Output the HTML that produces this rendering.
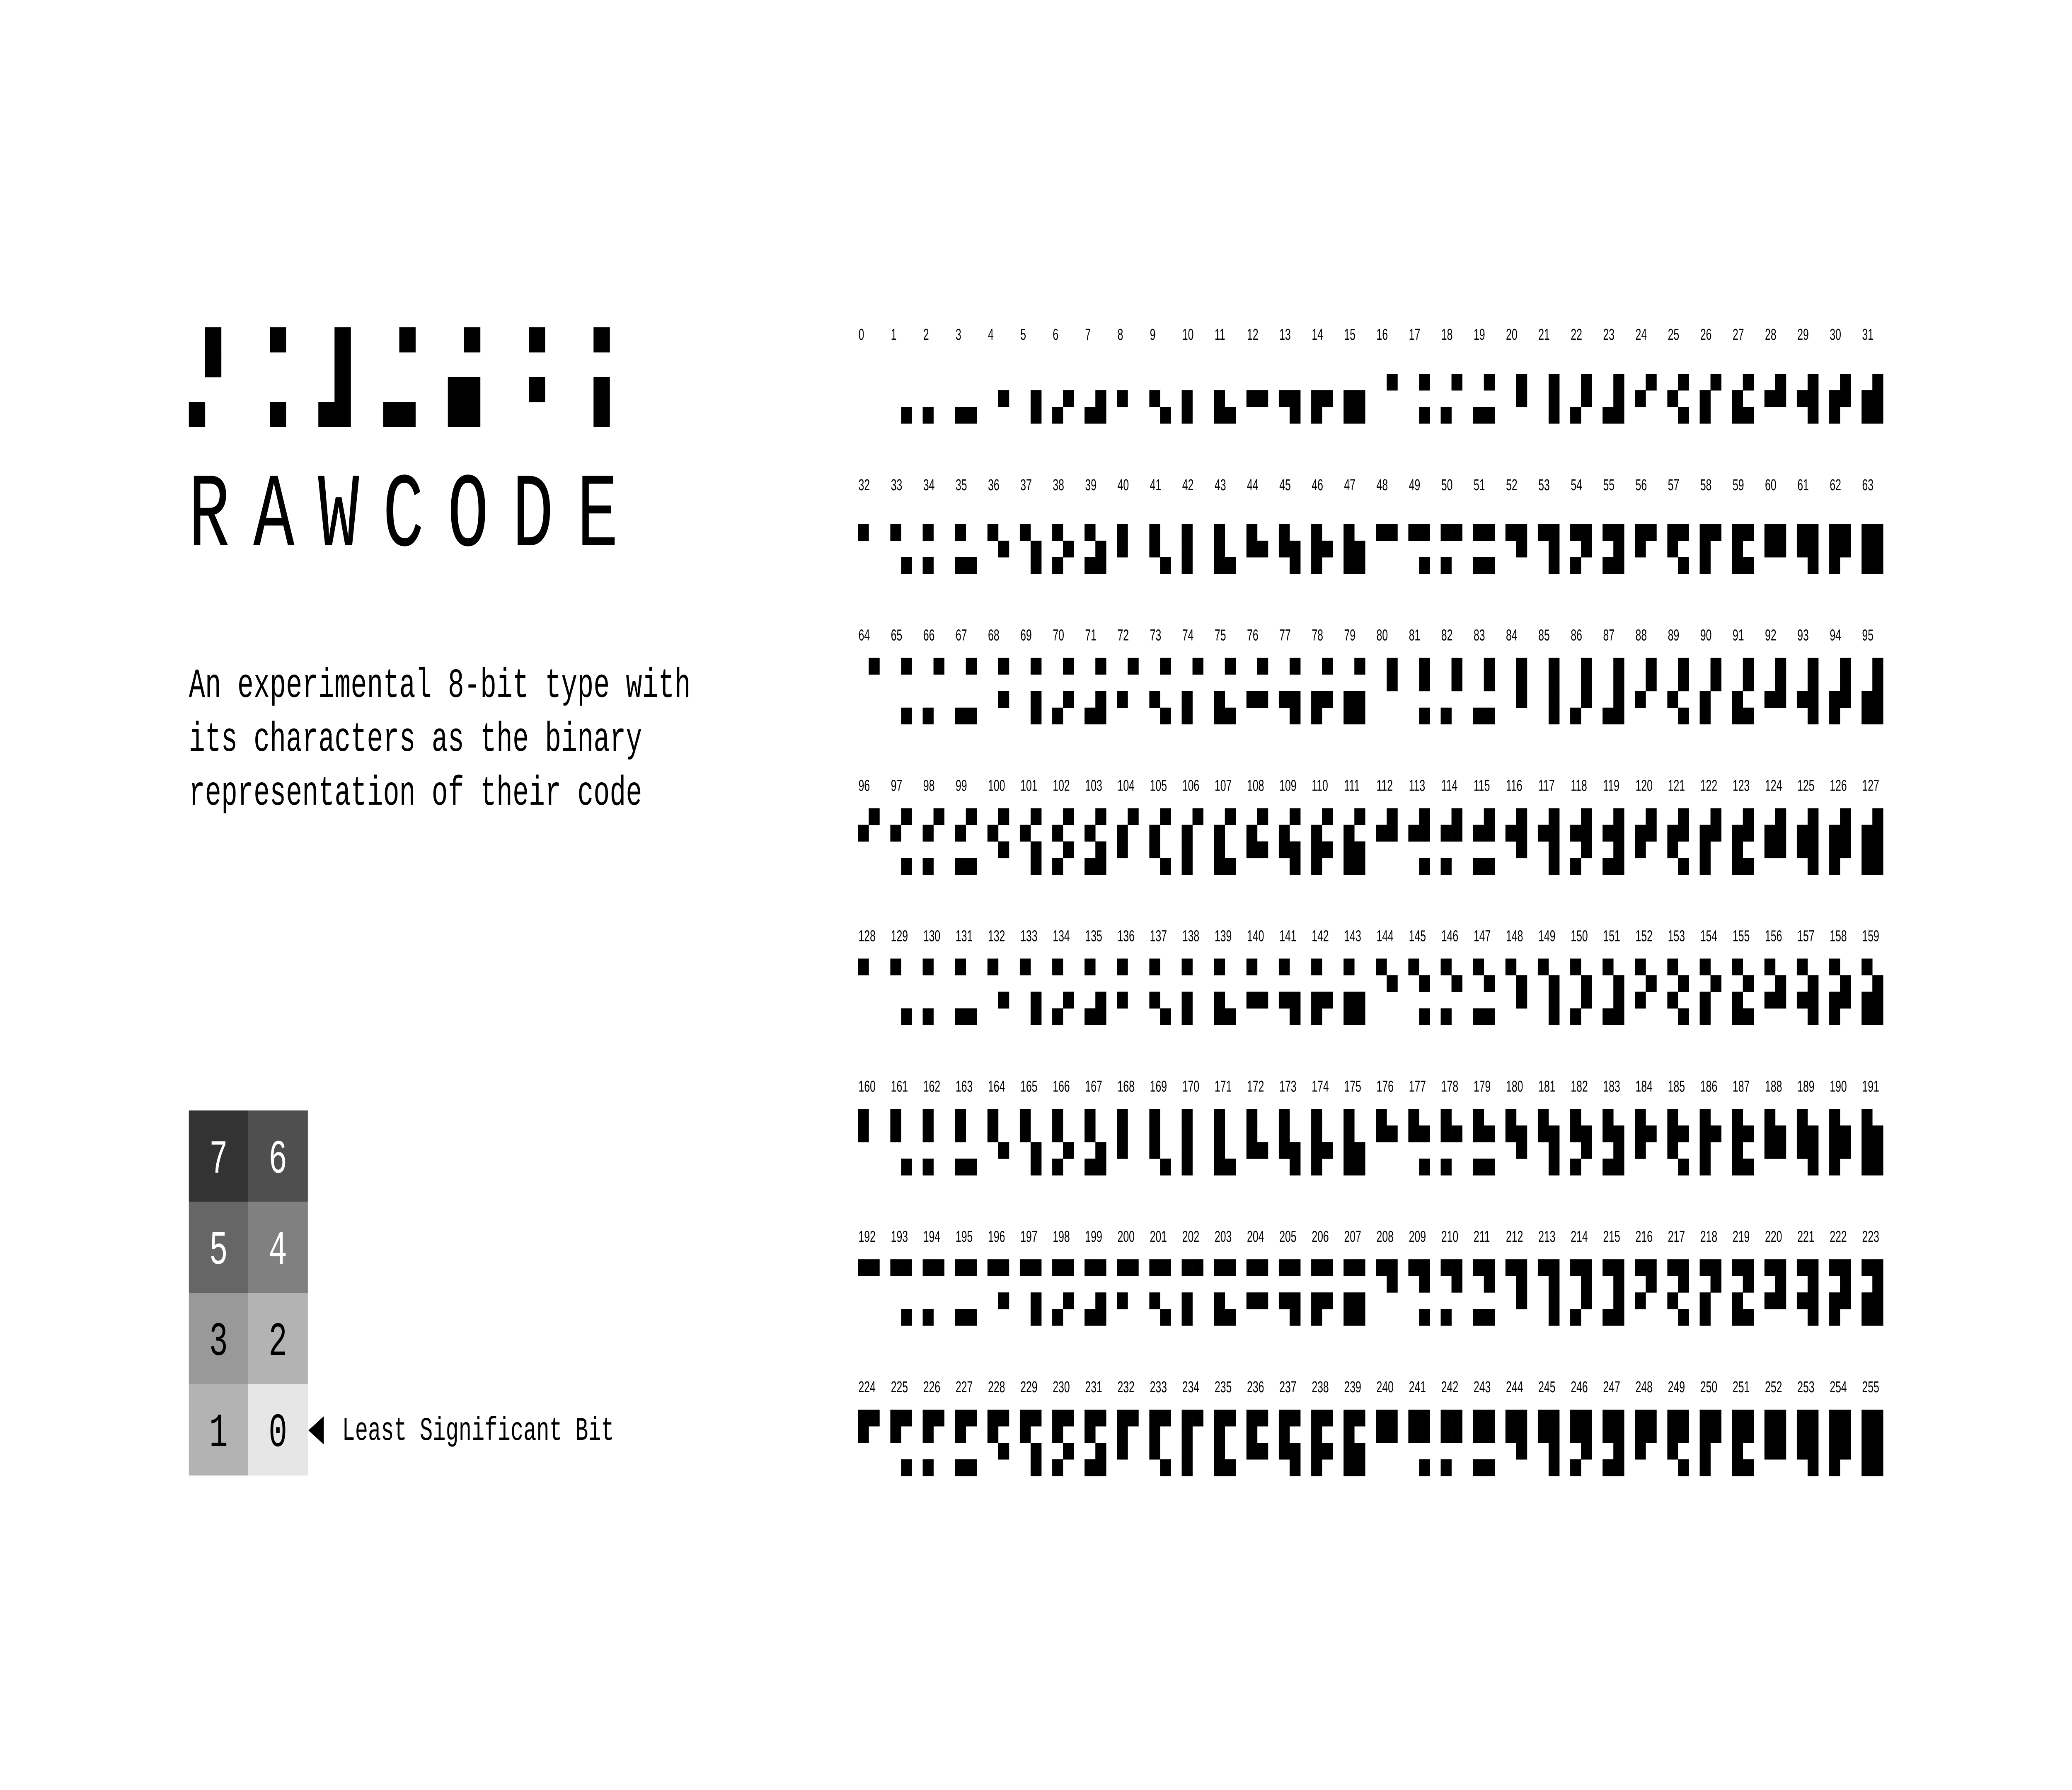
<!DOCTYPE html>
<html><head><meta charset="utf-8"><style>
html,body{margin:0;padding:0;background:#fff;width:100%;height:100%;overflow:hidden;}
svg{display:block;width:100vw;height:100vh;}
</style></head><body>
<svg id="root" xmlns="http://www.w3.org/2000/svg" viewBox="0 0 7680 4320" preserveAspectRatio="none">
<rect x="0" y="0" width="7680" height="4320" fill="#fff"/>
<g id="logo"></g>
<g id="logotext" font-family="Liberation Mono, monospace" font-size="255" fill="#000" text-anchor="middle"></g>
<g font-family="Liberation Mono, monospace" font-size="100" fill="#000">
<text x="700" y="1682">An experimental 8-bit type with</text>
<text x="700" y="1812">its characters as the binary</text>
<text x="700" y="1942">representation of their code</text>
</g>
<g id="key"></g>
<polygon points="1143,3452 1200,3418 1200,3486" fill="#000"/>
<text x="1268" y="3475" font-family="Liberation Mono, monospace" font-size="80" fill="#000">Least Significant Bit</text>
<g id="grid"></g>
</svg>
<script>
const codes = [0,1,2,3,4,5,6,7,8,9,10,11,12,13,14,15,16,17,18,19,20,21,22,23,24,25,26,27,28,29,30,31,
32,33,34,35,36,37,38,39,40,41,42,43,44,45,46,47,48,49,50,51,52,53,54,55,56,57,58,59,60,61,62,63,
64,65,66,67,68,69,70,71,72,73,74,75,76,77,78,79,80,81,82,83,84,85,86,87,88,89,90,91,92,93,94,95,
96,97,98,99,100,101,102,103,104,105,106,107,108,109,110,111,112,113,114,115,116,117,118,119,120,121,122,123,124,125,126,127,
128,129,130,131,132,133,134,135,136,137,138,139,140,141,142,143,144,145,146,147,148,149,150,151,152,153,154,155,156,157,158,159,
160,161,162,163,164,165,166,167,168,169,170,171,172,173,174,175,176,177,178,179,180,181,182,183,184,185,186,187,188,189,190,191,
192,193,194,195,196,197,198,199,200,201,202,203,204,205,206,207,208,209,210,211,212,213,214,215,216,217,218,219,220,221,222,223,
224,225,226,227,228,229,230,231,232,233,234,235,236,237,238,239,240,241,242,243,244,245,246,247,248,249,250,251,252,253,254,255];
const logoLetters = ["R","A","W","C","O","D","E"];
const logoCodes = [82,65,87,67,79,68,69];
const keyBits = [7,6,5,4,3,2,1,0];
const keyShades = ["#333333","#4f4f4f","#666666","#808080","#999999","#b3b3b3","#b3b3b3","#e6e6e6"];
const keyTextColors = ["#fff","#fff","#fff","#fff","#000","#000","#000","#000"];

const NS = "http://www.w3.org/2000/svg";
function mk(tag, attrs){ const e=document.createElementNS(NS,tag); for(const k in attrs) e.setAttribute(k,attrs[k]); return e; }
function cellOf(bit){ return {row: 3 - Math.floor(bit/2), col: (bit % 2 === 1) ? 0 : 1}; }
function drawGlyph(parent, code, x0, y0, s){
  for(let b=0;b<8;b++){
    if(code & (1<<b)){
      const c = cellOf(b);
      const r = mk("rect",{x:x0+c.col*s, y:y0+c.row*s, width:s+0.5, height:s+0.5, fill:"#000"});
      
      
      parent.appendChild(r);
    }
  }
}
const logo=document.getElementById('logo'), lt=document.getElementById('logotext');
logoCodes.forEach((c,i)=>{
  const g=mk("g",{});
  
  
  drawGlyph(g,c,700+i*240,790,60);
  logo.appendChild(g);
  const t=mk("text",{x:775+i*240,y:1316});
  
  
  t.textContent=logoLetters[i];
  lt.appendChild(t);
});
const key=document.getElementById('key');
keyBits.forEach((b,i)=>{
  const c=cellOf(b);
  const x=700+c.col*220, y=2680+c.row*220;
  const r=mk("rect",{x:x,y:y,width:221,height:221,fill:keyShades[i]});
  
  
  key.appendChild(r);
  const t=mk("text",{x:x+110,y:y+150,"text-anchor":"middle","font-family":"Liberation Mono, monospace","font-size":"115",fill:keyTextColors[i]});
  
  
  t.textContent=String(b);
  key.appendChild(t);
});
const grid=document.getElementById('grid');
const gx=c=>3180+(c%32)*120;
const gy=c=>862+Math.floor(c/32)*362.86;
codes.forEach(c=>{
  const g=mk("g",{});
  
  
  const t=mk("text",{x:gx(c)+2,y:gy(c)-42,"font-family":"Liberation Sans, sans-serif","font-size":"38",fill:"#000"});
  
  
  t.textContent=String(c);
  g.appendChild(t);
  drawGlyph(g,c,gx(c),gy(c),40);
  grid.appendChild(g);
});
</script>
</body></html>
